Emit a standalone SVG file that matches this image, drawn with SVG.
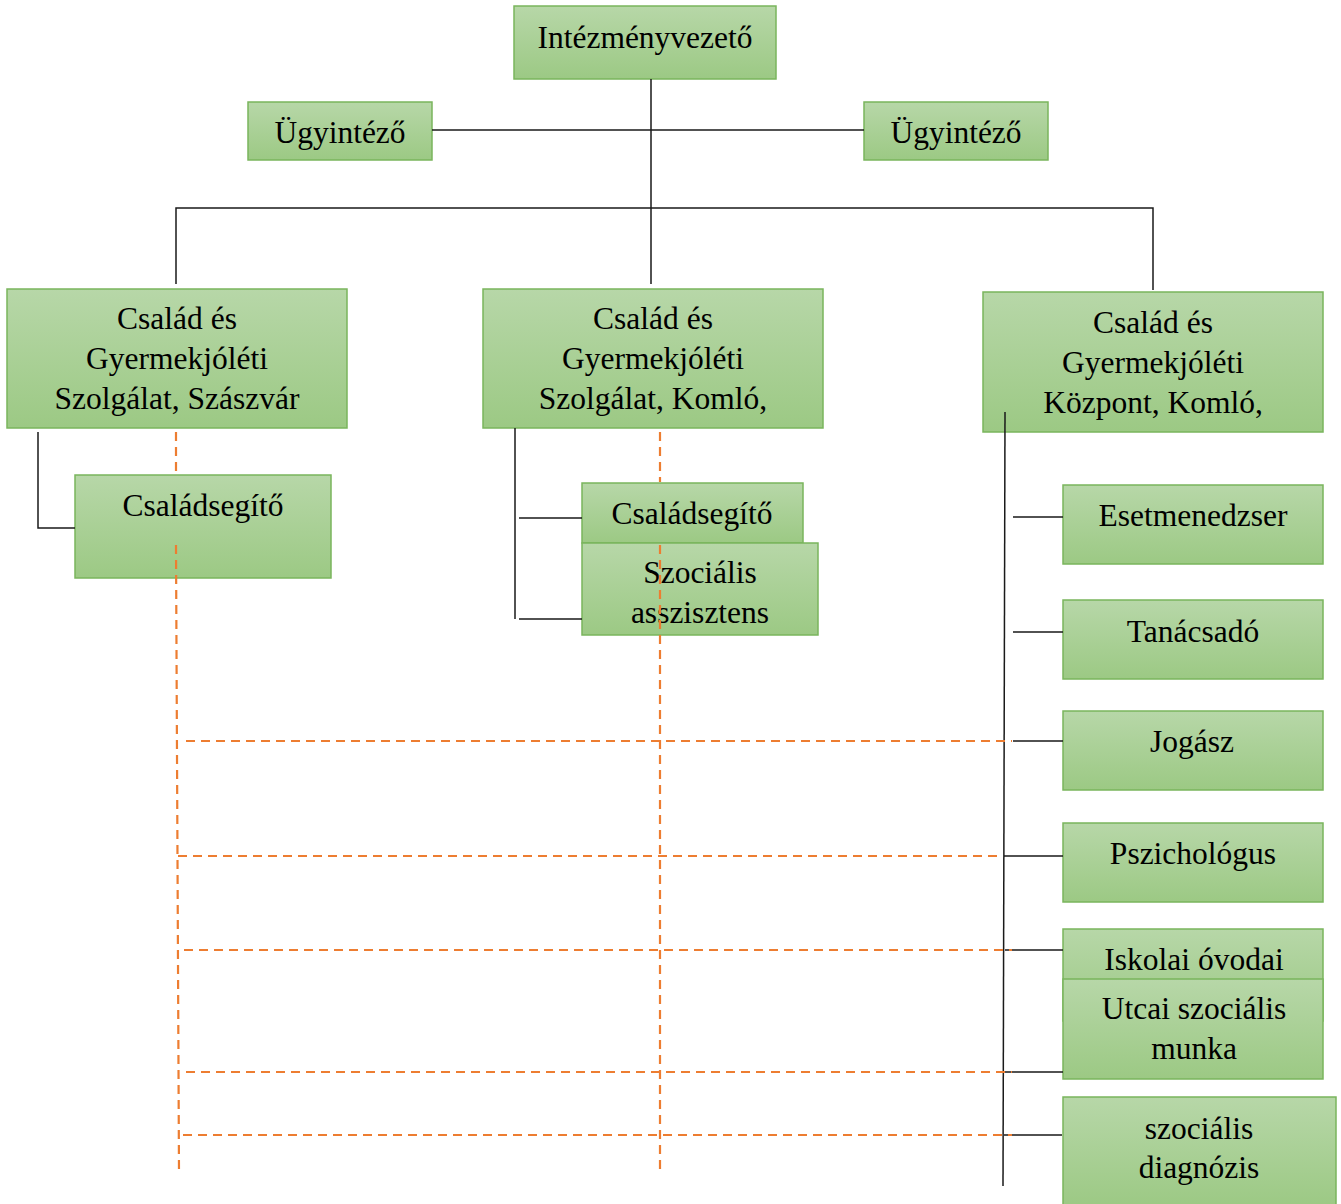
<svg xmlns="http://www.w3.org/2000/svg" width="1341" height="1204" viewBox="0 0 1341 1204">
<defs>
<linearGradient id="g" x1="0" y1="0" x2="0" y2="1">
<stop offset="0" stop-color="#b7d7a8"/>
<stop offset="1" stop-color="#9cc984"/>
</linearGradient>
</defs>
<style>
.box{fill:url(#g);stroke:#7ab55c;stroke-width:1.5}
text{font-family:"Liberation Serif","Times New Roman",serif;font-size:31.5px;fill:#000;text-anchor:middle}
.s{stroke:#1a1a1a;stroke-width:1.5;fill:none}
.d{stroke:#ed7d31;stroke-width:2.2;stroke-dasharray:9 6;fill:none}
</style>
<rect width="1341" height="1204" fill="#fff"/>
<g id="n-intezmenyvezeto"><rect class="box" x="514" y="6" width="262" height="73"/><text x="645" y="48">Intézményvezető</text></g>
<g id="n-ugyintezo-1"><rect class="box" x="248" y="102" width="184" height="58"/><text x="340" y="143">Ügyintéző</text></g>
<g id="n-ugyintezo-2"><rect class="box" x="864" y="102" width="184" height="58"/><text x="956" y="143">Ügyintéző</text></g>
<g id="n-szaszvar"><rect class="box" x="7" y="289" width="340" height="139"/><text x="177" y="329">Család és</text><text x="177" y="369">Gyermekjóléti</text><text x="177" y="409">Szolgálat, Szászvár</text></g>
<g id="n-komlo-szolg"><rect class="box" x="483" y="289" width="340" height="139"/><text x="653" y="329">Család és</text><text x="653" y="369">Gyermekjóléti</text><text x="653" y="409">Szolgálat, Komló,</text></g>
<g id="n-komlo-kozp"><rect class="box" x="983" y="292" width="340" height="140"/><text x="1153" y="333">Család és</text><text x="1153" y="373">Gyermekjóléti</text><text x="1153" y="413">Központ, Komló,</text></g>
<g id="n-csaladsegito-1"><rect class="box" x="75" y="475" width="256" height="103"/><text x="203" y="516">Családsegítő</text></g>
<g id="n-csaladsegito-2"><rect class="box" x="582" y="483" width="221" height="60"/><text x="692" y="524">Családsegítő</text></g>
<g id="n-szoc-asszisztens"><rect class="box" x="582" y="543" width="236" height="92"/><text x="700" y="583">Szociális</text><text x="700" y="623">asszisztens</text></g>
<g id="n-esetmenedzser"><rect class="box" x="1063" y="485" width="260" height="79"/><text x="1193" y="526">Esetmenedzser</text></g>
<g id="n-tanacsado"><rect class="box" x="1063" y="600" width="260" height="79"/><text x="1193" y="642">Tanácsadó</text></g>
<g id="n-jogasz"><rect class="box" x="1063" y="711" width="260" height="79"/><text x="1192" y="752">Jogász</text></g>
<g id="n-pszichologus"><rect class="box" x="1063" y="823" width="260" height="79"/><text x="1193" y="864">Pszichológus</text></g>
<g id="n-iskolai"><rect class="box" x="1063" y="929" width="260" height="92"/><text x="1194" y="970">Iskolai óvodai</text></g>
<g id="n-utcai"><rect class="box" x="1063" y="979" width="260" height="100"/><text x="1194" y="1019">Utcai szociális</text><text x="1194" y="1059">munka</text></g>
<g id="n-diagnozis"><rect class="box" x="1063" y="1097" width="273" height="110"/><text x="1199" y="1139">szociális</text><text x="1199" y="1178">diagnózis</text></g>
<g id="connectors">
<path class="s" d="M651 79V284M432 130H864M176 284V208H1153V290"/>
<path class="s" d="M38 432V528H75"/>
<path class="s" d="M515 428V619M519 518H582M519 619H582"/>
<path class="s" d="M1005 412L1003 1186"/>
<path class="s" d="M1013 517H1063M1013 632H1063M1013 741H1063M1004 856H1063M1005 950H1063M1005 1072H1063M1004 1135H1062"/>
<path class="d" d="M176 432V475M176 545L179 1172"/>
<path class="d" d="M660 432V482M660 545V1170"/>
<path class="d" d="M186 741H1012M178 856H1000M184 950H1012M186 1072H1012M183 1135H1012"/>
</g>
</svg>
